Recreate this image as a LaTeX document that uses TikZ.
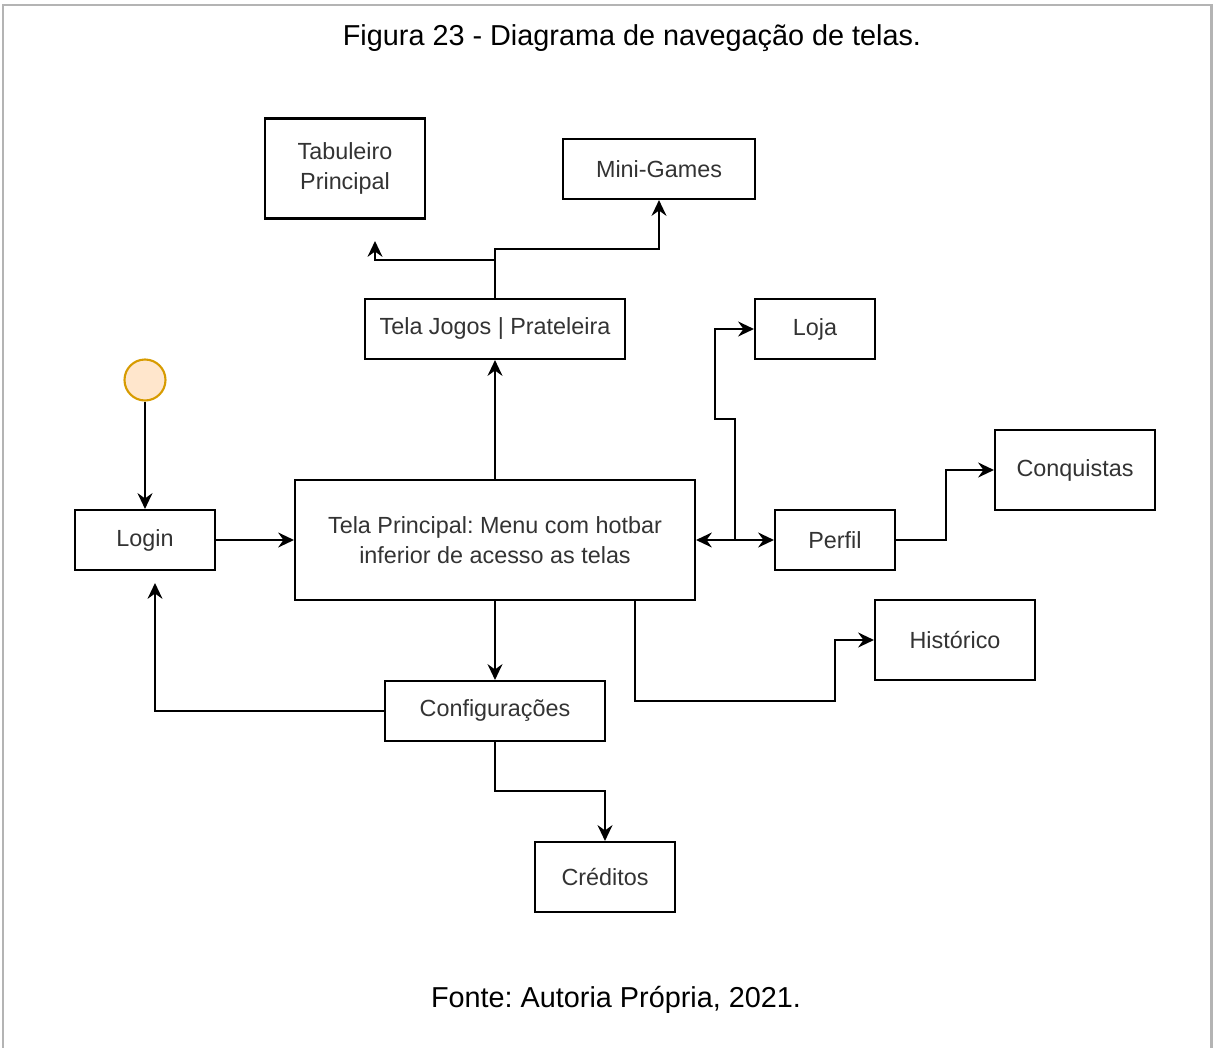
\documentclass[tikz,border=0pt]{standalone}
\usepackage{fontspec}
\setmainfont{Liberation Sans}
\frenchspacing
\usetikzlibrary{arrows.meta}
\definecolor{txtgray}{HTML}{333333}
\definecolor{framegray}{HTML}{B4B4B4}
\definecolor{circfill}{HTML}{FFE6CC}
\definecolor{circdraw}{HTML}{D79B00}
\tikzset{
  tip/.style={Stealth[length=9pt,width=8.5pt,inset=3pt]},
  box/.style={draw=black, line width=1.2pt, fill=white, rectangle, inner sep=0pt,
    align=center, text=txtgray, font=\frenchspacing\fontsize{13.3}{17}\selectfont},
  conn/.style={draw=black, line width=1.2pt, -{Stealth[length=9pt,width=8.5pt,inset=3pt]}},
  conn2/.style={draw=black, line width=1.2pt, {Stealth[length=9pt,width=8.5pt,inset=3pt]}-{Stealth[length=9pt,width=8.5pt,inset=3pt]}},
  caption/.style={font=\frenchspacing\fontsize{16.4}{20}\selectfont, text=black, inner sep=0pt}
}
\begin{document}
\begin{tikzpicture}[x=0.02cm, y=-0.02cm]
\useasboundingbox (0,0) rectangle (1214,1048);
% frame
\draw[framegray, line width=1.7pt] (3,1048) -- (3,5) -- (1211,5) -- (1211,1048);
% captions
\node[caption] (title) at (632,38) {Figura 23 - Diagrama de navegação de telas.};
\node[caption] (fonte) at (616,1000) {Fonte: Autoria Própria, 2021.};
% boxes
\node[box, minimum width=3.2cm, minimum height=2cm] (tab) at (345,168.5) {Tabuleiro\\Principal};
\node[box, minimum width=3.84cm, minimum height=1.2cm] (mini) at (659,169) {Mini-Games};
\node[box, minimum width=5.2cm, minimum height=1.2cm] (jogos) at (495,329) {Tela Jogos | Prateleira};
\node[box, minimum width=2.4cm, minimum height=1.2cm] (loja) at (815,329) {Loja};
\node[box, minimum width=3.2cm, minimum height=1.6cm] (conq) at (1075,470) {Conquistas};
\node[box, minimum width=2.8cm, minimum height=1.2cm] (login) at (145,540) {Login};
\node[box, minimum width=8cm, minimum height=2.4cm] (tp) at (495,540) {Tela Principal: Menu com hotbar\\inferior de acesso as telas};
\node[box, minimum width=2.4cm, minimum height=1.2cm] (perfil) at (835,540) {Perfil};
\node[box, minimum width=3.2cm, minimum height=1.6cm] (hist) at (955,640) {Histórico};
\node[box, minimum width=4.4cm, minimum height=1.2cm] (conf) at (495,711) {Configurações};
\node[box, minimum width=2.8cm, minimum height=1.4cm] (cred) at (605,877) {Créditos};
\node[circle, draw=circdraw, fill=circfill, line width=1.2pt, minimum size=0.82cm, inner sep=0pt] (start) at (145,380) {};
% free ends
\coordinate (tabend) at (375,241);
\coordinate (loginend) at (155,583);
% connectors
\draw[conn] (start) -- (login);
\draw[conn] (login) -- (tp);
\draw[conn] (tp) -- (jogos);
\draw[conn] (jogos.north) -- (495,260) -- (375,260) -- (tabend);
\draw[conn] (jogos.north) -- (495,249) -- (659,249) -- (mini.south);
\draw[conn2] (tp.east) -- (perfil.west);
\draw[conn] (735,540) -- (735,419) -- (715,419) -- (715,329) -- (loja.west);
\draw[conn] (perfil.east) -- (946,540) -- (946,470) -- (conq.west);
\draw[conn] (tp.south -| 635,0) -- (635,701) -- (835,701) -- (835,640) -- (hist.west);
\draw[conn] (tp) -- (conf);
\draw[conn] (conf.west) -- (155,711) -- (loginend);
\draw[conn] (conf.south) -- (495,791) -- (605,791) -- (cred.north);
\end{tikzpicture}
\end{document}
